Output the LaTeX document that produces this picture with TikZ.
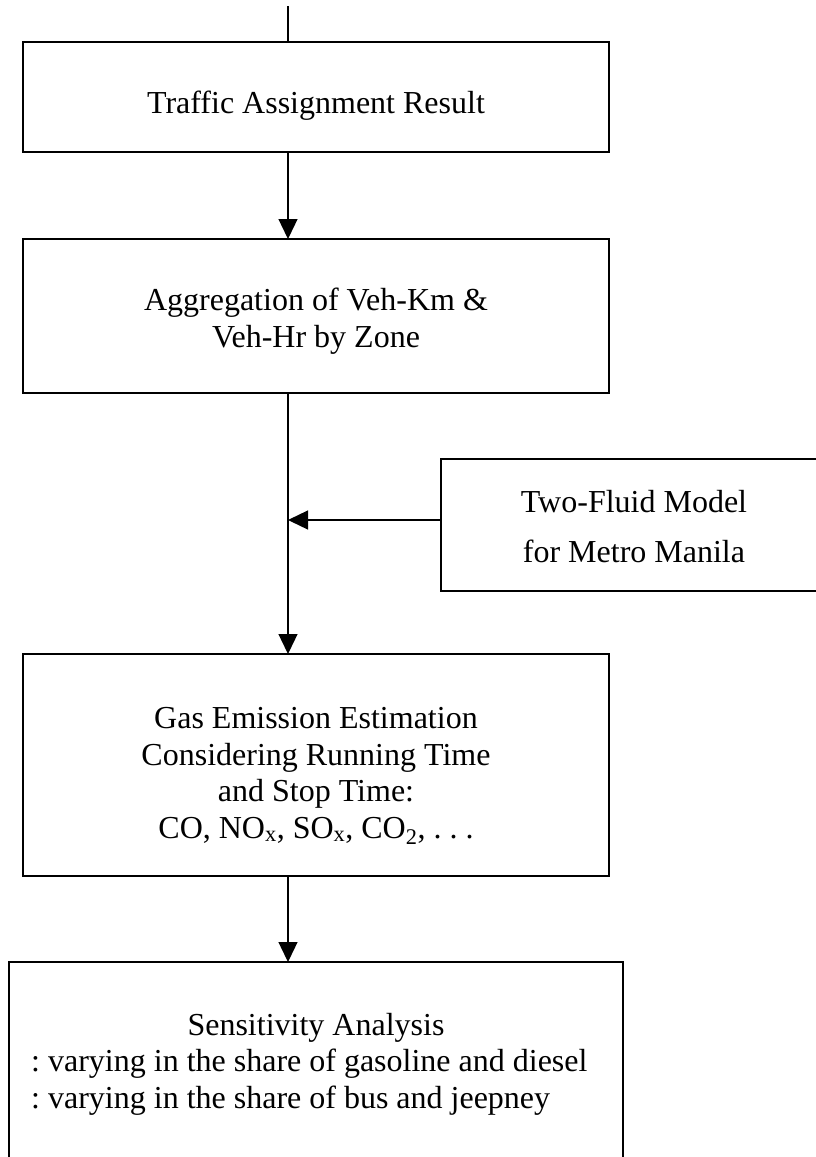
\documentclass[tikz,border=0pt]{standalone}
\usepackage{fontspec}
\setmainfont{Liberation Serif}
\usetikzlibrary{arrows.meta}
\frenchspacing
\begin{document}
\begin{tikzpicture}[x=1pt,y=-1pt,
  box/.style={draw, line width=1.3pt, rectangle, inner sep=0pt, outer sep=0pt},
  txt/.style={font=\fontsize{32}{36.5}\selectfont, align=center, inner sep=0pt, anchor=base},
  txtl/.style={font=\fontsize{32}{36.5}\selectfont, align=left, inner sep=0pt, anchor=base west},
  arr/.style={line width=1.3pt, -{Triangle[length=20pt,width=19pt]}},
  ln/.style={line width=1.3pt}]
\useasboundingbox (0,0) rectangle (815,1157);
\coordinate (axis) at (288,0);
\coordinate (top) at (288,6);
\coordinate (j) at (288,520);
% boxes
\node[box, minimum width=586pt, minimum height=110pt] (b1) at (316,97) {};
\node[box, minimum width=586pt, minimum height=154pt] (b2) at (316,316) {};
\node[box, minimum width=389pt, minimum height=132pt] (tf) at (635.5,525) {};
\node[box, minimum width=586pt, minimum height=222pt] (b4) at (316,765) {};
\node[box, minimum width=614pt, minimum height=208pt] (b5) at (316,1066) {};
% texts (base anchor = baseline of the last line)
\node[txt] (t1) at (316,113) {Traffic Assignment Result};
\node[txt] (t2) at (316,347) {Aggregation of Veh-Km \&\\Veh-Hr by Zone};
\node[txt, font=\fontsize{32}{50}\selectfont] (t3) at (634,562) {Two-Fluid Model\\for Metro Manila};
\node[txt] (t4) at (316,838) {Gas Emission Estimation\\Considering Running Time\\and Stop Time:\\CO, NO\textsubscript{x}, SO\textsubscript{x}, CO\textsubscript{2}, . . .};
\node[txt] (t5) at (316,1035) {Sensitivity Analysis};
\node[txtl] (t6) at (31,1108) {: varying in the share of gasoline and diesel\\: varying in the share of bus and jeepney};
% connectors
\draw[ln] (top) -- (b1.north -| axis);
\draw[arr] (b1.south -| axis) -- (b2.north -| axis);
\draw[arr] (b2.south -| axis) -- (b4.north -| axis);
\draw[arr] (tf.west |- j) -- (j);
\draw[arr] (b4.south -| axis) -- (b5.north -| axis);
\end{tikzpicture}
\end{document}
